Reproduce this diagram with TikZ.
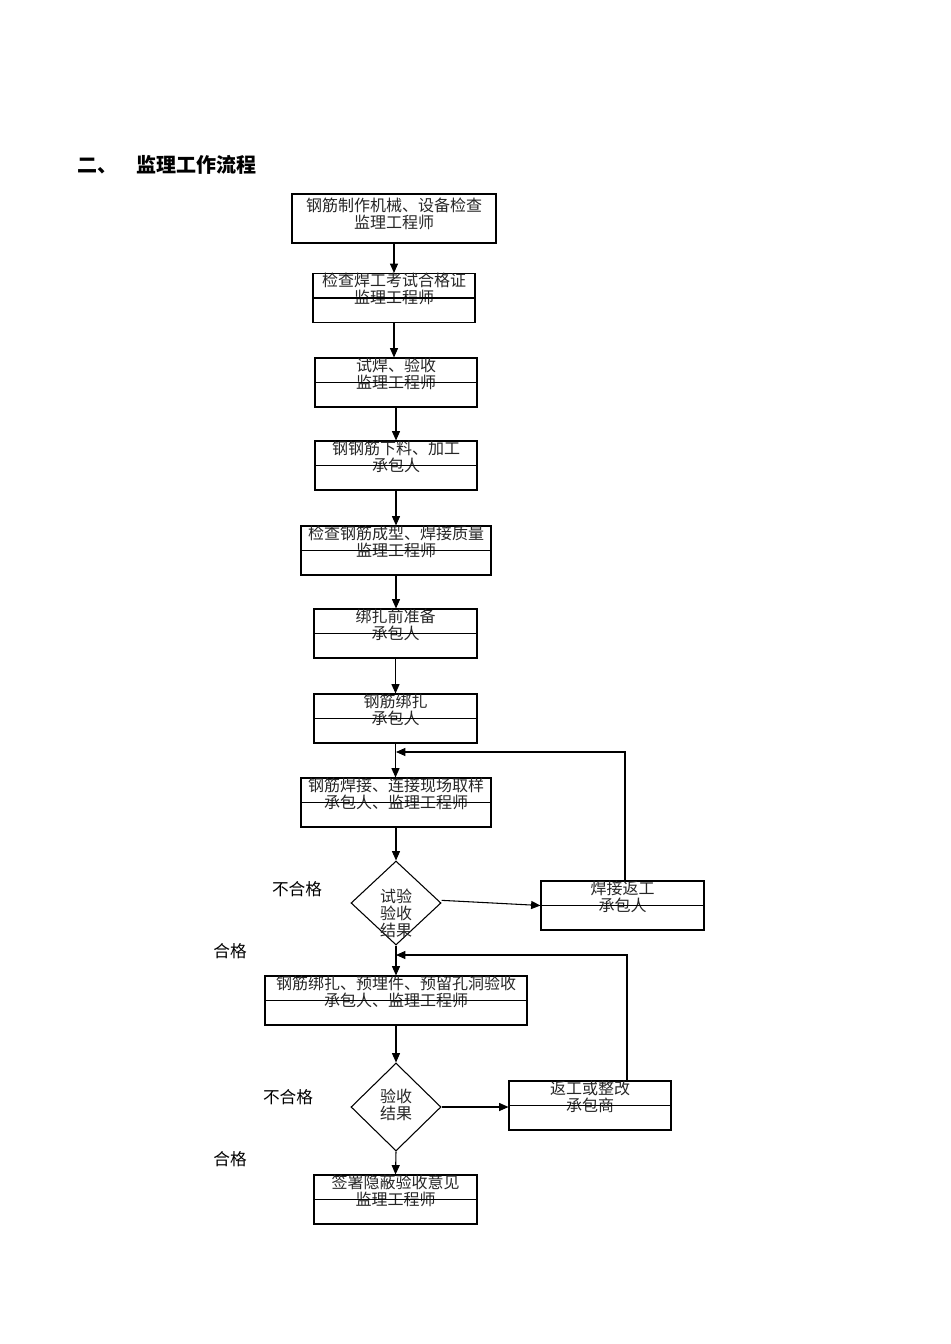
\documentclass[tikz,border=0pt]{standalone}
\usepackage{fontspec}
\setmainfont{Liberation Serif}
\newfontfamily\cjk{Noto Sans CJK SC}[Scale=1]
\usetikzlibrary{shapes.geometric,arrows.meta}
\def\px{0.75pt}
\begin{document}
\begin{tikzpicture}[x=0.75pt,y=-0.75pt,
  box/.style={draw,line width=0.8pt,inner sep=0,minimum height=49*\px},
  txt/.style={anchor=north,inner sep=0,align=center,font=\cjk\fontsize{12pt}{12.8pt}\selectfont\color{black!85}},
  dia/.style={draw,line width=0.8pt,diamond,inner sep=0,minimum width=90*\px,minimum height=84*\px},
  lbl/.style={font=\cjk\fontsize{12.5pt}{14pt}\selectfont},
  arr/.style={line width=0.8pt,-{Triangle[length=7pt,width=6pt]}},
  ln/.style={line width=0.8pt}]
\useasboundingbox (0,0) rectangle (950,1344);
\node[anchor=west,font=\cjk\bfseries\fontsize{15pt}{17pt}\selectfont] (title) at (73,165) {二、\hspace{14pt}监理工作流程};

\node[box,minimum width=204*\px] (b1) at (394,218.5) {};
\node[txt] at ([yshift=-3pt]b1.north) {钢筋制作机械、设备检查\\监理工程师};
\node[box,minimum width=162*\px] (b2) at (394,298) {};
\node[txt] at ([yshift=-0pt]b2.north) {检查焊工考试合格证\\监理工程师};
\node[box,minimum width=162*\px] (b3) at (396,382.5) {};
\node[txt] at (b3.north) {试焊、验收\\监理工程师};
\node[box,minimum width=162*\px] (b4) at (396,465.5) {};
\node[txt] at (b4.north) {钢钢筋下料、加工\\承包人};
\node[box,minimum width=190*\px] (b5) at (396,550.5) {};
\node[txt] at (b5.north) {检查钢筋成型、焊接质量\\监理工程师};
\node[box,minimum width=163*\px] (b6) at (395.5,633.5) {};
\node[txt] at (b6.north) {绑扎前准备\\承包人};
\node[box,minimum width=163*\px] (b7) at (395.5,718.5) {};
\node[txt] at (b7.north) {钢筋绑扎\\承包人};
\node[box,minimum width=190*\px] (b8) at (396,802.5) {};
\node[txt] at (b8.north) {钢筋焊接、连接现场取样\\承包人、监理工程师};
\node[dia] (d1) at (396,903) {};
\node[txt,anchor=center] at (396,913) {试验\\验收\\结果};
\node[box,minimum width=163*\px] (r1) at (622.5,905.5) {};
\node[txt] at (r1.north) {焊接返工\\承包人};
\node[box,minimum width=262*\px] (b9) at (396,1000.5) {};
\node[txt] at (b9.north) {钢筋绑扎、预埋件、预留孔洞验收\\承包人、监理工程师};
\node[dia,minimum height=88*\px] (d2) at (396,1107) {};
\node[txt,anchor=center] at (396,1105) {验收\\结果};
\node[box,minimum width=162*\px] (r2) at (590,1105.5) {};
\node[txt] at (r2.north) {返工或整改\\承包商};
\node[box,minimum width=163*\px] (b10) at (395.5,1199.5) {};
\node[txt] at (b10.north) {签署隐蔽验收意见\\监理工程师};

\foreach \n in {b2,b3,b4,b5,b6,b7,b8,r1,b9,r2,b10} \draw[ln] (\n.west) -- (\n.east);

\node[lbl] (n1) at (297,889) {不合格};
\node[lbl] (p1) at (230,951) {合格};
\node[lbl] (n2) at (288,1097) {不合格};
\node[lbl] (p2) at (230,1159) {合格};

\draw[arr] (b1.south) -- (b2.north);
\draw[arr] (b2.south) -- (b2.south|-b3.north);
\draw[arr] (b3.south) -- (b4.north);
\draw[arr] (b4.south) -- (b5.north);
\draw[arr] (b5.south) -- (b5.south|-b6.north);
\draw[arr] (b6.south) -- (b6.south|-b7.north);
\draw[arr] (b7.south) -- (b7.south|-b8.north);
\draw[arr] (b8.south) -- (d1.north);
\draw[arr] (d1.south) -- (b9.north);
\draw[arr] (b9.south) -- (d2.north);
\draw[arr] (d2.south) -- (b10.north);
\draw[arr] ([yshift=2pt]d1.east) -- (r1.west);
\draw[arr] (d2.east) -- (r2.west|-d2.east);
\coordinate (c1) at (625,752);
\coordinate (c2) at (627,955);
\draw[arr] (r1.north-|c1) -- (c1) -- (c1-|b8.north);
\draw[arr] (r2.north-|c2) -- (c2) -- (c2-|b9.north);
\end{tikzpicture}
\end{document}
